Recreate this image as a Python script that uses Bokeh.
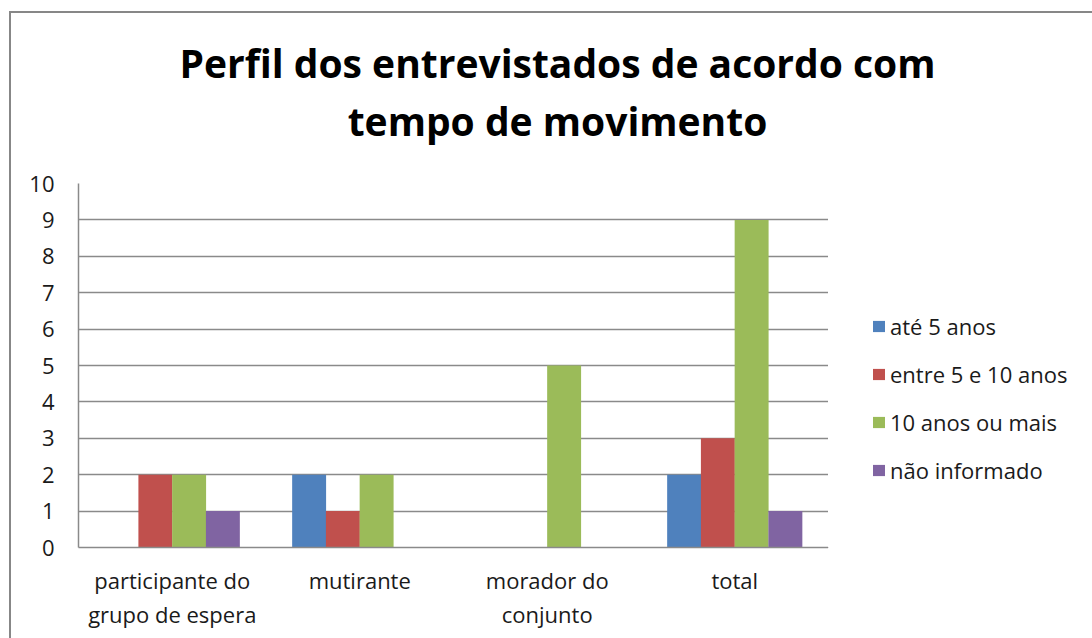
from bokeh.plotting import figure
from bokeh.layouts import column, row
from bokeh.models import (ColumnDataSource, FactorRange, Legend, LegendItem, FixedTicker,
                          CategoricalAxis, CustomJSTickFormatter, Div)
from bokeh.transform import dodge
from bokeh.embed import file_html
from bokeh.resources import INLINE

categories = ["participante do grupo de espera", "mutirante", "morador do conjunto", "total"]
label_line1 = ["participante do", "mutirante", "morador do", "total"]
label_line2 = ["grupo de espera", "", "conjunto", ""]
series_names = ["até 5 anos", "entre 5 e 10 anos", "10 anos ou mais", "não informado"]
ate_5 = [0, 2, 0, 2]
entre_5_10 = [2, 1, 0, 3]
dez_ou_mais = [2, 2, 5, 9]
nao_informado = [1, 0, 0, 1]
y_ticks = [0, 1, 2, 3, 4, 5, 6, 7, 8, 9, 10]
title_lines = ["Perfil dos entrevistados de acordo com", "tempo de movimento"]

colors = ["#4F81BD", "#C0504D", "#9BBB59", "#8064A2"]
FONT = "Open Sans"
TXT = "#1a1a1a"
GRID = "#8a8a8a"

src = ColumnDataSource(dict(cat=categories, s0=ate_5, s1=entre_5_10, s2=dez_ou_mais, s3=nao_informado))

title_div = Div(
    text="<br>".join(title_lines), width=1081, height=150, margin=0,
    styles={"font-family": "'Open Sans'", "font-weight": "bold", "font-size": "39px",
            "line-height": "58px", "text-align": "center", "color": "black",
            "padding-top": "21px", "padding-left": "12px", "box-sizing": "border-box",
            "background": "white"})

p = figure(x_range=FactorRange(factors=categories), y_range=(0, 10),
           width=817, height=475, output_backend="svg", toolbar_location=None,
           min_border_left=67, min_border_right=0, min_border_top=20, min_border_bottom=91)

p.outline_line_color = None
p.background_fill_color = "white"
p.border_fill_color = "white"

bw = 0.181
offsets = [-0.27, -0.09, 0.09, 0.27]
renderers = []
for i, key in enumerate(["s0", "s1", "s2", "s3"]):
    r = p.vbar(x=dodge("cat", offsets[i], range=p.x_range), top=key, width=bw,
               source=src, fill_color=colors[i], line_color=None)
    renderers.append(r)

p.xgrid.grid_line_color = None
p.ygrid.grid_line_color = GRID
p.ygrid.grid_line_width = 1.5
p.yaxis.ticker = FixedTicker(ticks=y_ticks)

x1 = p.xaxis[0]
x2 = CategoricalAxis()
p.add_layout(x2, "below")

for ax in (x1, p.yaxis[0], x2):
    ax.axis_line_color = GRID
    ax.axis_line_width = 1.5
    ax.major_tick_line_color = None
    ax.minor_tick_line_color = None
    ax.major_tick_out = 0
    ax.major_tick_in = 0
    ax.major_label_text_font = FONT
    ax.major_label_text_font_size = "22px"
    ax.major_label_text_color = TXT

x2.axis_line_color = None
p.yaxis.major_label_standoff = 24
x1.major_label_standoff = 17
x2.major_label_standoff = 1
fmt_code = "const i = cats.indexOf(tick); return i >= 0 ? labels[i] : tick;"
x1.formatter = CustomJSTickFormatter(args=dict(cats=categories, labels=label_line1), code=fmt_code)
x2.formatter = CustomJSTickFormatter(args=dict(cats=categories, labels=label_line2), code=fmt_code)

# legend lives in its own small figure to the right of the plot;
# proxy glyphs sit outside that figure's visible range, only their legend swatches show
lf = figure(width=264, height=475, output_backend="svg", toolbar_location=None,
            x_axis_location=None, y_axis_location=None, min_border=0,
            x_range=(0, 1), y_range=(0, 1))
lf.grid.visible = False
lf.outline_line_color = None
lf.background_fill_color = "white"
lf.border_fill_color = "white"
proxies = [lf.vbar(x=[-5], top=[-5], bottom=[-6], width=0.1, fill_color=colors[i], line_color=None)
           for i in range(4)]

legend = Legend(items=[LegendItem(label=series_names[i], renderers=[proxies[i]]) for i in range(4)],
                location=(43, 62), orientation="vertical")
legend.padding = 0
legend.margin = 0
legend.border_line_color = None
legend.background_fill_alpha = 0
legend.glyph_width = 15
legend.glyph_height = 14
legend.label_height = 30
legend.label_standoff = 4
legend.spacing = 18
legend.label_text_font = FONT
legend.label_text_font_size = "22px"
legend.label_text_color = TXT
lf.add_layout(legend, "center")

layout = column(title_div, row(p, lf, spacing=0), spacing=0)
layout.styles = {"border-left": "2px solid #878787", "border-top": "2px solid #878787",
                 "margin-left": "9px", "margin-top": "11px", "background": "white"}

open("out.html", "w").write(file_html(layout, INLINE))
